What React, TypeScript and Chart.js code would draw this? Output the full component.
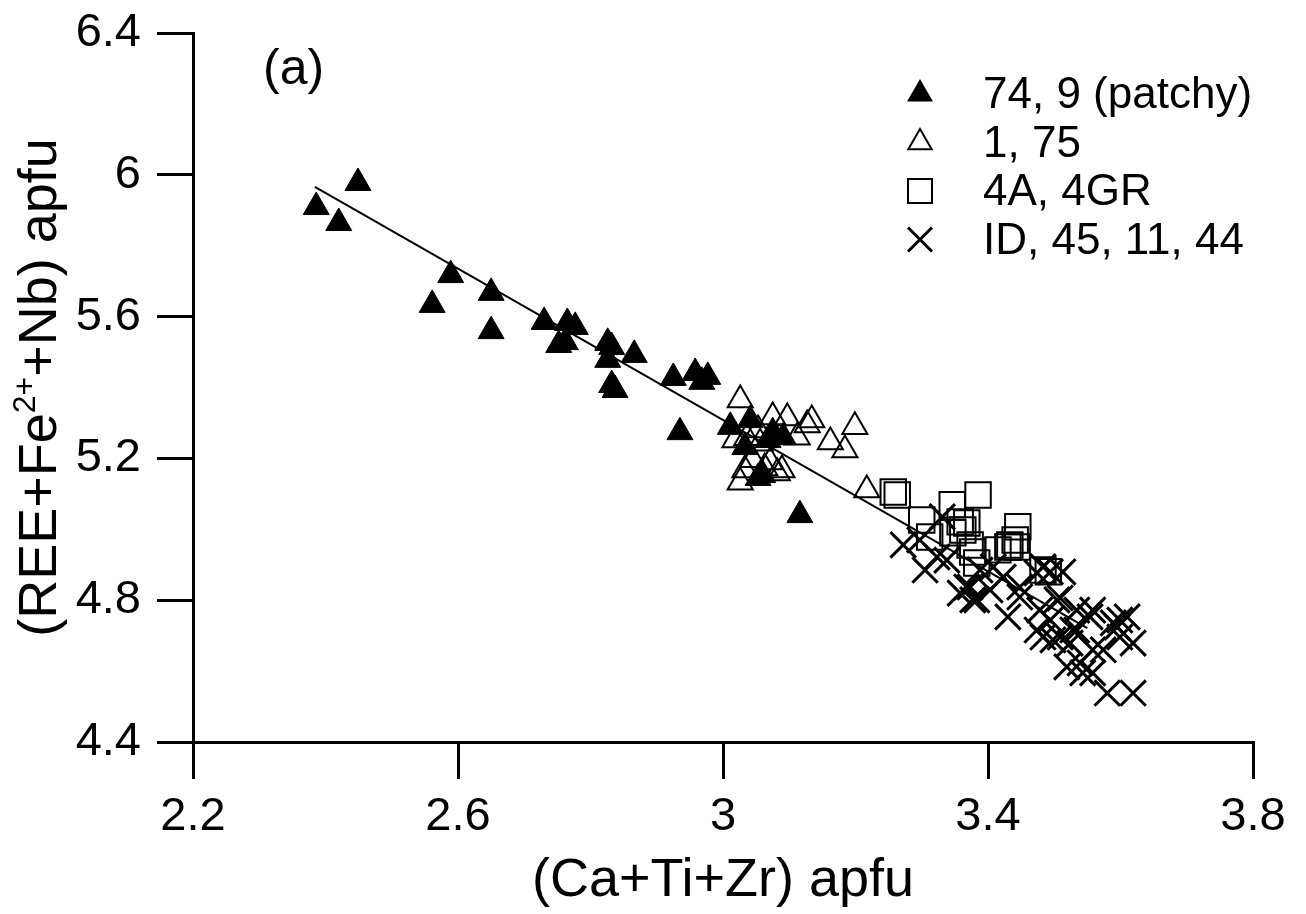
import React, { useEffect, useRef } from 'react';
import { Chart, registerables } from 'chart.js';

Chart.register(...registerables);

const FONT = "'Liberation Sans', Arial, Helvetica, sans-serif";

const xTickValues = [2.2, 2.6, 3.0, 3.4, 3.8];
const yTickValues = [4.4, 4.8, 5.2, 5.6, 6.0, 6.4];

const seriesLabels = ['74, 9 (patchy)', '1, 75', '4A, 4GR', 'ID, 45, 11, 44'];
const panelLabel = '(a)';
const xTitle = '(Ca+Ti+Zr) apfu';
const yTitleParts = ['(REE+Fe', '2+', '+Nb) apfu'];

// 74, 9 (patchy) — filled triangles
const filledX = [2.449, 2.386, 2.420, 2.589, 2.561, 2.650, 2.650, 2.730, 2.765, 2.777, 2.752, 2.762, 2.826, 2.832, 2.826, 2.866, 2.837, 2.832,
  2.925, 2.958, 2.968, 2.977, 2.935, 3.011, 3.041, 3.033, 3.075, 3.091, 3.060, 3.116, 3.068, 3.053];
const filledY = [5.977, 5.909, 5.864, 5.717, 5.633, 5.667, 5.559, 5.585, 5.582, 5.571, 5.520, 5.528, 5.526, 5.514, 5.478, 5.492, 5.393, 5.407,
  5.427, 5.441, 5.416, 5.430, 5.274, 5.289, 5.308, 5.232, 5.274, 5.260, 5.153, 5.040, 5.252, 5.145];

// 1, 75 — open triangles
const openX = [3.026, 3.075, 3.097, 3.127, 3.134, 3.199, 3.162, 3.184, 3.026, 3.217, 3.018, 3.112, 3.071, 3.089, 3.082, 3.045, 3.056, 3.036, 3.063, 3.053, 3.033];
const openY = [5.365, 5.317, 5.314, 5.294, 5.308, 5.289, 5.246, 5.224, 5.133, 5.111, 5.252, 5.260, 5.190, 5.167, 5.159, 5.196, 5.243, 5.258, 5.173, 5.280, 5.167];

// 4A, 4GR — open squares
const squareX = [3.257, 3.263, 3.346, 3.385, 3.300, 3.312, 3.358, 3.362, 3.347, 3.373, 3.377, 3.383, 3.433, 3.445, 3.441, 3.444, 3.483, 3.491, 3.430, 3.415, 3.368];
const squareY = [5.105, 5.097, 5.069, 5.097, 5.026, 4.978, 5.021, 4.998, 4.990, 4.956, 4.936, 4.905, 4.956, 5.007, 4.970, 4.950, 4.885, 4.880, 4.950, 4.942, 5.018];

// ID, 45, 11, 44 — crosses
const crossX = [3.331, 3.272, 3.297, 3.305, 3.323, 3.338, 3.358, 3.368, 3.388, 3.377, 3.408, 3.423, 3.448, 3.474, 3.483, 3.513, 3.494, 3.373,
  3.430, 3.383, 3.448, 3.478, 3.509, 3.534, 3.558, 3.599, 3.619, 3.599, 3.474, 3.483, 3.509, 3.524, 3.519, 3.539, 3.558, 3.580, 3.619,
  3.574, 3.558, 3.534, 3.589, 3.610, 3.403, 3.504, 3.595, 3.554, 3.528, 3.543, 3.498, 3.494];
const crossY = [5.035, 4.956, 4.970, 4.885, 4.922, 4.913, 4.820, 4.837, 4.885, 4.801, 4.894, 4.865, 4.837, 4.877, 4.894, 4.880, 4.880, 4.837,
  4.753, 4.801, 4.809, 4.772, 4.806, 4.772, 4.772, 4.744, 4.679, 4.696, 4.716, 4.696, 4.696, 4.679, 4.612, 4.623, 4.595, 4.538, 4.538,
  4.660, 4.660, 4.716, 4.736, 4.753, 4.829, 4.801, 4.724, 4.753, 4.716, 4.595, 4.688, 4.744];

// regression line end points
const fitX = [2.384, 3.55];
const fitY = [5.966, 4.721];

const pts = (xs: number[], ys: number[]) => xs.map((x, i) => ({ x, y: ys[i] }));

function drawLegendMarker(ctx: CanvasRenderingContext2D, kind: number, cx: number, cy: number) {
  ctx.save();
  ctx.strokeStyle = '#000';
  ctx.fillStyle = '#000';
  if (kind === 0 || kind === 1) {
    const r = kind === 0 ? 15 : 13.5;
    ctx.beginPath();
    ctx.moveTo(cx, cy - r);
    ctx.lineTo(cx + r * 0.866, cy + r / 2);
    ctx.lineTo(cx - r * 0.866, cy + r / 2);
    ctx.closePath();
    if (kind === 0) ctx.fill();
    else {
      ctx.lineWidth = 2;
      ctx.stroke();
    }
  } else if (kind === 2) {
    ctx.lineWidth = 2;
    ctx.strokeRect(cx - 12, cy - 12, 24, 24);
  } else {
    ctx.lineWidth = 3;
    ctx.beginPath();
    ctx.moveTo(cx - 12, cy - 12);
    ctx.lineTo(cx + 12, cy + 12);
    ctx.moveTo(cx + 12, cy - 12);
    ctx.lineTo(cx - 12, cy + 12);
    ctx.stroke();
  }
  ctx.restore();
}

const decorPlugin = {
  id: 'decor',
  afterDraw(chart: any) {
    const ctx: CanvasRenderingContext2D = chart.ctx;
    ctx.save();
    ctx.fillStyle = '#000';
    // panel label
    ctx.font = `50px ${FONT}`;
    ctx.textAlign = 'left';
    ctx.textBaseline = 'middle';
    ctx.fillText(panelLabel, 263, 70);
    // legend
    ctx.font = `44px ${FONT}`;
    seriesLabels.forEach((lab, i) => {
      const y = 94 + i * 48.5;
      drawLegendMarker(ctx, i, 920, y);
      ctx.fillText(lab, 983, y + 2);
    });
    // y axis title with superscript
    const size = 54;
    const supSize = 32;
    const mainFont = `${size}px ${FONT}`;
    const supFont = `${supSize}px ${FONT}`;
    ctx.font = mainFont;
    const w0 = ctx.measureText(yTitleParts[0]).width;
    const w2 = ctx.measureText(yTitleParts[2]).width;
    ctx.font = supFont;
    const w1 = ctx.measureText(yTitleParts[1]).width;
    const total = w0 + w1 + w2;
    const cy = (chart.chartArea.top + chart.chartArea.bottom) / 2;
    ctx.translate(56, cy);
    ctx.rotate(-Math.PI / 2);
    ctx.textBaseline = 'alphabetic';
    let x = -total / 2;
    ctx.font = mainFont;
    ctx.fillText(yTitleParts[0], x, 0);
    x += w0;
    ctx.font = supFont;
    ctx.fillText(yTitleParts[1], x, -size * 0.38);
    x += w1;
    ctx.font = mainFont;
    ctx.fillText(yTitleParts[2], x, 0);
    ctx.restore();
  },
};

const fmt = (v: number) => String(Number(Number(v).toFixed(1)));

export default function App() {
  const ref = useRef<HTMLCanvasElement | null>(null);
  useEffect(() => {
    document.body.style.margin = '0';
    const canvas = ref.current;
    if (!canvas) return;
    const chart = new Chart(canvas, {
      type: 'scatter',
      data: {
        datasets: [
          {
            label: seriesLabels[0],
            data: pts(filledX, filledY),
            pointStyle: 'triangle',
            pointRadius: 15,
            pointHoverRadius: 15,
            backgroundColor: '#000',
            borderColor: '#000',
            borderWidth: 1,
          },
          {
            label: seriesLabels[1],
            data: pts(openX, openY),
            pointStyle: 'triangle',
            pointRadius: 14.5,
            pointHoverRadius: 14.5,
            backgroundColor: 'rgba(255,255,255,0)',
            borderColor: '#000',
            borderWidth: 2,
          },
          {
            label: seriesLabels[2],
            data: pts(squareX, squareY),
            pointStyle: 'rect',
            pointRadius: 18,
            pointHoverRadius: 18,
            backgroundColor: 'rgba(255,255,255,0)',
            borderColor: '#000',
            borderWidth: 2,
          },
          {
            label: seriesLabels[3],
            data: pts(crossX, crossY),
            pointStyle: 'crossRot',
            pointRadius: 18,
            pointHoverRadius: 18,
            backgroundColor: '#000',
            borderColor: '#000',
            borderWidth: 3,
          },
          {
            label: 'fit',
            type: 'line',
            data: pts(fitX, fitY),
            showLine: true,
            borderColor: '#000',
            borderWidth: 2,
            pointRadius: 0,
            fill: false,
          } as any,
        ],
      },
      options: {
        animation: false,
        responsive: true,
        maintainAspectRatio: false,
        layout: { padding: { left: 0, top: 33, right: 53, bottom: 0 } },
        plugins: {
          legend: { display: false },
          tooltip: { enabled: false },
        },
        scales: {
          x: {
            type: 'linear',
            min: 2.2,
            max: 3.8,
            afterBuildTicks: (s: any) => {
              s.ticks = xTickValues.map((v) => ({ value: v }));
            },
            afterFit: (s: any) => {
              s.height = 914 - 742;
            },
            grid: { display: true, drawOnChartArea: false, drawTicks: true, tickLength: 37, color: '#000', lineWidth: 3 },
            border: { display: true, color: '#000', width: 3 },
            ticks: {
              color: '#000',
              font: { family: FONT, size: 47 },
              padding: 10,
              maxRotation: 0,
              autoSkip: false,
              callback: (v: any) => fmt(v),
            },
            title: {
              display: true,
              text: xTitle,
              color: '#000',
              font: { family: FONT, size: 54 },
              padding: { top: 0, bottom: 0 },
            },
          },
          y: {
            type: 'linear',
            min: 4.4,
            max: 6.4,
            afterBuildTicks: (s: any) => {
              s.ticks = yTickValues.map((v) => ({ value: v }));
            },
            afterFit: (s: any) => {
              s.width = 193;
              s.paddingTop = 0;
              s.paddingBottom = 0;
            },
            grid: { display: true, drawOnChartArea: false, drawTicks: true, tickLength: 36, color: '#000', lineWidth: 3 },
            border: { display: true, color: '#000', width: 3 },
            ticks: {
              color: '#000',
              font: { family: FONT, size: 47, lineHeight: 0.9 },
              padding: 16,
              autoSkip: false,
              callback: (v: any) => fmt(v),
            },
          },
        },
      },
      plugins: [decorPlugin],
    });
    return () => chart.destroy();
  }, []);
  return (
    <div style={{ position: 'fixed', left: 0, top: 0, width: 1306, height: 914, background: '#fff' }}>
      <canvas ref={ref} />
    </div>
  );
}
